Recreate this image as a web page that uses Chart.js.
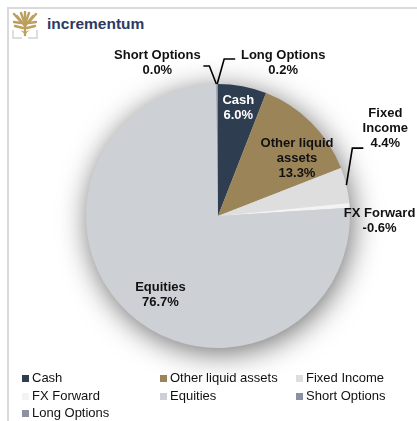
<!DOCTYPE html>
<html>
<head>
<meta charset="utf-8">
<script src="https://cdn.jsdelivr.net/npm/chart.js@4"></script>
<style>
  body { margin: 0; background: #fff; font-family: "Liberation Sans", Arial, sans-serif; }
  #wrap { position: relative; width: 417px; height: 421px; overflow: hidden; }
  #frame { position: absolute; left: 7px; top: 7px; right: -2px; bottom: -2px; border-left: 2px solid #dadada; border-top: 2px solid #dadada; }
  #logo { position: absolute; left: 12px; top: 11px; }
  #brand { position: absolute; left: 47px; top: 15px; font-size: 15.5px; font-weight: bold; color: #2c3a62; }
  canvas { position: absolute; left: 0; top: 0; }
  #legend { position: absolute; left: 22px; top: 369px; width: 395px; }
  .item { position: absolute; font-size: 13px; color: #111; white-space: nowrap; line-height: 17px; }
  .item span { display: inline-block; width: 7px; height: 7px; margin-right: 3px; vertical-align: 0px; }
</style>
</head>
<body>
<div id="wrap">
  <div id="frame"></div>
  <svg id="logo" width="26" height="28" viewBox="0 0 26 28">
    <g stroke="#bd9f5e" stroke-width="2.4" fill="none" stroke-linecap="round">
      <path d="M13 24 L13 11"/>
      <path d="M13 15 L5 5"/><path d="M13 15 L21 5"/>
      <path d="M13 13 L9 2"/><path d="M13 13 L17 2"/>
      <path d="M13 12 L13 1"/>
      <path d="M10 12 L2 3"/><path d="M16 12 L24 3"/>
      <path d="M9 12 L2 11"/><path d="M17 12 L24 11"/>
      <path d="M11 17 L3 15"/><path d="M15 17 L23 15"/>
    </g>
    <path d="M13 23 L8 19 L13 21 L18 19 Z" fill="#bd9f5e"/>
    <path d="M1 19 L1 27 L10 27 M25 19 L25 27 L16 27" stroke="#d4d4d4" stroke-width="1.5" fill="none"/>
  </svg>
  <div id="brand">incrementum</div>
  <canvas id="pie" width="417" height="421"></canvas>
  <div id="legend"></div>
</div>
<script>
// dados
const categorias = ['Cash', 'Other liquid assets', 'Fixed Income', 'FX Forward', 'Equities', 'Short Options', 'Long Options'];
const valores = [6.0, 13.3, 4.4, -0.6, 76.7, 0.0, 0.2];
const cores = ['#2e3e50', '#9c8459', '#dedede', '#f3f3f3', '#cdd0d4', '#8b90a2', '#8b90a2'];

// posicao dos rotulos (k = fracao do raio; out = rotulo fora com linha guia)
const rotulos = [
    { linhas: ['Cash'], k: 0.83, dx: 0, dy: 0, cor: '#fff' },
    { linhas: ['Other liquid', 'assets'], k: 0.75, dx: 9, dy: 12, cor: '#111' },
    { linhas: ['Fixed', 'Income'], out: true, tx: 39, ty: -57, guia: [[6, -37], [17, -37]], cor: '#111' },
    { linhas: ['FX Forward'], out: true, tx: 30, ty: 16, cor: '#111' },
    { linhas: ['Equities'], k: 0.73, dx: 8, dy: 8, cor: '#111' },
    { linhas: ['Short Options'], out: true, tx: -59, ty: -21, guia: [[-7, -18], [-13, -18]], cor: '#111' },
    { linhas: ['Long Options'], out: true, tx: 66, ty: -21, guia: [[7, -25], [18, -25]], cor: '#111' }
];

// legenda em tres colunas
const colX = [0, 138, 274];
const legenda = document.getElementById('legend');
categorias.forEach((c, i) => {
    const d = document.createElement('div');
    d.className = 'item';
    d.style.left = colX[i % 3] + 'px';
    d.style.top = (Math.floor(i / 3) * 17.5) + 'px';
    d.innerHTML = '<span style="background:' + cores[i] + '"></span>' + c;
    legenda.appendChild(d);
});

// sombra suave atras da pizza
const sombra = {
    id: 'sombra',
    beforeDatasetsDraw(chart) {
        const arc = chart.getDatasetMeta(0).data[0];
        const { x, y, outerRadius } = arc.getProps(['x', 'y', 'outerRadius'], true);
        const ctx = chart.ctx;
        ctx.save();
        ctx.shadowColor = 'rgba(0,0,0,0.6)';
        ctx.shadowBlur = 30;
        ctx.shadowOffsetX = 2;
        ctx.shadowOffsetY = 5;
        ctx.beginPath();
        ctx.arc(x, y, outerRadius - 1, 0, Math.PI * 2);
        ctx.fillStyle = '#cdd0d4';
        ctx.fill();
        ctx.restore();
    }
};

// rotulos de dados
const etiquetas = {
    id: 'etiquetas',
    afterDatasetsDraw(chart) {
        const ctx = chart.ctx;
        const meta = chart.getDatasetMeta(0);
        ctx.save();
        ctx.font = 'bold 13px "Liberation Sans", Arial, sans-serif';
        ctx.textAlign = 'center';
        ctx.textBaseline = 'middle';
        meta.data.forEach((arc, i) => {
            const p = arc.getProps(['x', 'y', 'startAngle', 'endAngle', 'outerRadius'], true);
            const meio = (p.startAngle + p.endAngle) / 2;
            const r = rotulos[i];
            const linhas = r.linhas.concat([valores[i].toFixed(1) + '%']);
            let cx, cy;
            if (r.out) {
                const ex = p.x + Math.cos(meio) * p.outerRadius;
                const ey = p.y + Math.sin(meio) * p.outerRadius;
                if (r.guia) {
                    ctx.strokeStyle = '#000';
                    ctx.lineWidth = 1.6;
                    ctx.beginPath();
                    ctx.moveTo(ex, ey);
                    r.guia.forEach(g => ctx.lineTo(ex + g[0], ey + g[1]));
                    ctx.stroke();
                }
                cx = ex + r.tx;
                cy = ey + r.ty;
            } else {
                cx = p.x + Math.cos(meio) * p.outerRadius * r.k + r.dx;
                cy = p.y + Math.sin(meio) * p.outerRadius * r.k + r.dy;
            }
            ctx.fillStyle = r.cor;
            const h = 15;
            linhas.forEach((t, j) => {
                ctx.fillText(t, cx, cy + (j - (linhas.length - 1) / 2) * h);
            });
        });
        ctx.restore();
    }
};

const ctx = document.getElementById('pie').getContext('2d');
const grafico = new Chart(ctx, {
    type: 'pie',
    data: {
        labels: categorias,
        datasets: [{
            data: valores.map(v => Math.abs(v)), // fatia pelo valor absoluto
            backgroundColor: cores,
            borderWidth: 0
        }]
    },
    options: {
        responsive: false,
        animation: false,
        layout: {
            padding: { left: 86, right: 67, top: 84, bottom: 73 }
        },
        plugins: {
            legend: { display: false },
            title: { display: false },
            tooltip: { enabled: false }
        }
    },
    plugins: [sombra, etiquetas]
});
</script>
</body>
</html>
